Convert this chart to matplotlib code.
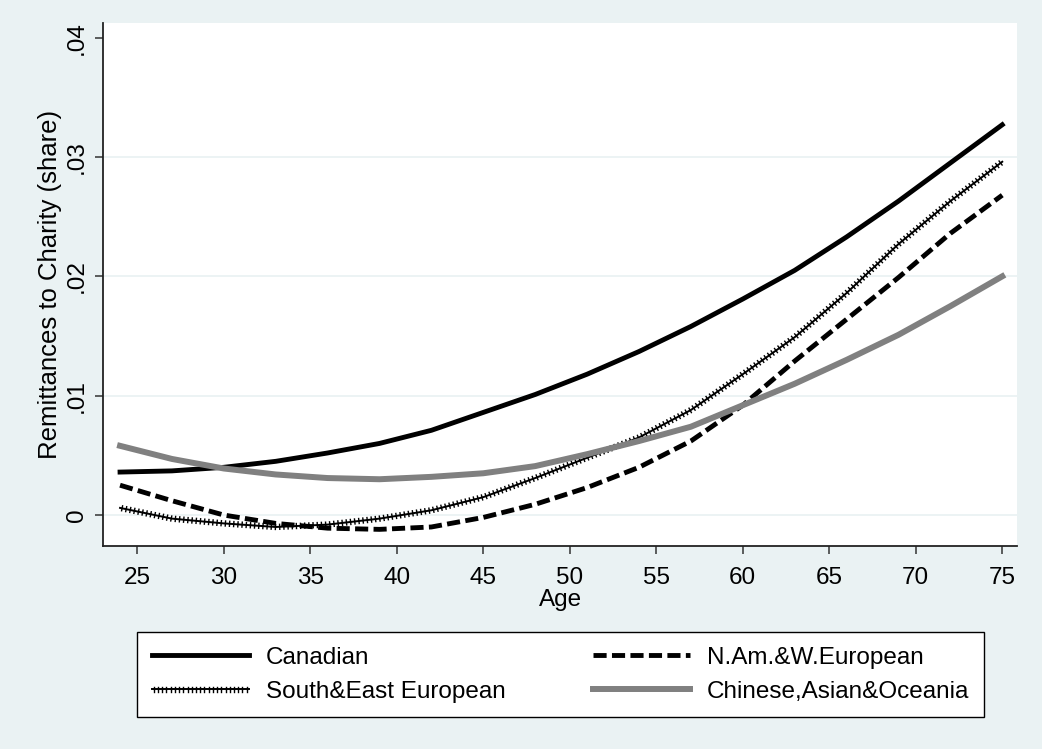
import matplotlib
matplotlib.use("Agg")
import matplotlib.pyplot as plt
import matplotlib.patheffects as pe

ages = [24, 27, 30, 33, 36, 39, 42, 45, 48, 51, 54, 57, 60, 63, 66, 69, 72, 75]

canadian = [0.0036, 0.0037, 0.0040, 0.0045, 0.0052, 0.0060, 0.0071, 0.0086, 0.0101,
            0.0118, 0.0137, 0.0158, 0.0181, 0.0205, 0.0233, 0.0263, 0.0295, 0.0327]
nam_weur = [0.0025, 0.0012, 0.0000, -0.0007, -0.0011, -0.0012, -0.0010, -0.0002, 0.0009,
            0.0023, 0.0040, 0.0062, 0.0092, 0.0129, 0.0164, 0.0199, 0.0236, 0.0268]
south_east = [0.0006, -0.0003, -0.0007, -0.0010, -0.0008, -0.0003, 0.0004, 0.0015, 0.0031,
              0.0048, 0.0065, 0.0088, 0.0118, 0.0149, 0.0186, 0.0227, 0.0263, 0.0296]
chinese_asian = [0.0058, 0.0047, 0.0039, 0.0034, 0.0031, 0.0030, 0.0032, 0.0035, 0.0041,
                 0.0051, 0.0062, 0.0074, 0.0092, 0.0110, 0.0130, 0.0151, 0.0175, 0.0200]

labels = ["Canadian", "N.Am.&W.European", "South&East European", "Chinese,Asian&Oceania"]

xticks = [25, 30, 35, 40, 45, 50, 55, 60, 65, 70, 75]
yticks = [0, 0.01, 0.02, 0.03, 0.04]
ytick_labels = ["0", ".01", ".02", ".03", ".04"]
grid_vals = [0, 0.01, 0.02, 0.03]

BG = "#EAF2F3"
FS = 17.5

plt.rcParams['font.family'] = ['Liberation Sans', 'DejaVu Sans']

fig = plt.figure(figsize=(10.42, 7.49), dpi=100, facecolor=BG)
ax = fig.add_axes([0.0991, 0.2714, 0.8772, 0.6975])
ax.set_facecolor("white")

for g in grid_vals:
    ax.axhline(g, color=BG, lw=1.3, zorder=0)

h_can, = ax.plot(ages, canadian, color="black", lw=3.5, label=labels[0], zorder=3)
h_nam, = ax.plot(ages, nam_weur, color="black", lw=3.5, linestyle=(0, (2.7, 1.1)),
                 label=labels[1], zorder=3)
ticked = [pe.TickedStroke(spacing=3, angle=90, length=0.6, linewidth=1.0),
          pe.TickedStroke(spacing=3, angle=-90, length=0.6, linewidth=1.0),
          pe.Normal()]
h_se, = ax.plot(ages, south_east, color="black", lw=1.4, path_effects=ticked,
                label=labels[2], zorder=3)
h_chi, = ax.plot(ages, chinese_asian, color="#808080", lw=4.3, label=labels[3], zorder=4)

ax.set_xlim(23.03, 75.87)
ax.set_ylim(-0.00257, 0.0412)

ax.set_xticks(xticks)
ax.set_yticks(yticks, ytick_labels)
plt.setp(ax.get_yticklabels(), rotation=90, va="center")
ax.tick_params(axis="both", labelsize=FS, length=6, width=1.1, color="#333333")
ax.tick_params(axis="x", pad=9)
ax.tick_params(axis="y", pad=5)

for side in ["top", "right"]:
    ax.spines[side].set_visible(False)
for side in ["left", "bottom"]:
    ax.spines[side].set_color("#222222")
    ax.spines[side].set_linewidth(1.3)

ax.set_xlabel("Age", fontsize=FS, labelpad=0)
ax.set_ylabel("Remittances to Charity (share)", fontsize=FS + 1, labelpad=3)

# column-major fill -> rows: Canadian | N.Am, South&East | Chinese
handles = [h_can, h_se, h_nam, h_chi]
leg = fig.legend(handles=handles, labels=[h.get_label() for h in handles],
                 loc="upper left", bbox_to_anchor=(137 / 1042, 1 - 718 / 749, 847 / 1042, 86 / 749),
                 bbox_transform=fig.transFigure, mode="expand", ncol=2, fontsize=FS,
                 handlelength=4.0, handletextpad=0.7, labelspacing=0.5, borderpad=0.6,
                 borderaxespad=0, fancybox=False, framealpha=1)
leg.get_frame().set_edgecolor("black")
leg.get_frame().set_linewidth(1.0)

fig.savefig("out.png", dpi=100, facecolor=BG)
